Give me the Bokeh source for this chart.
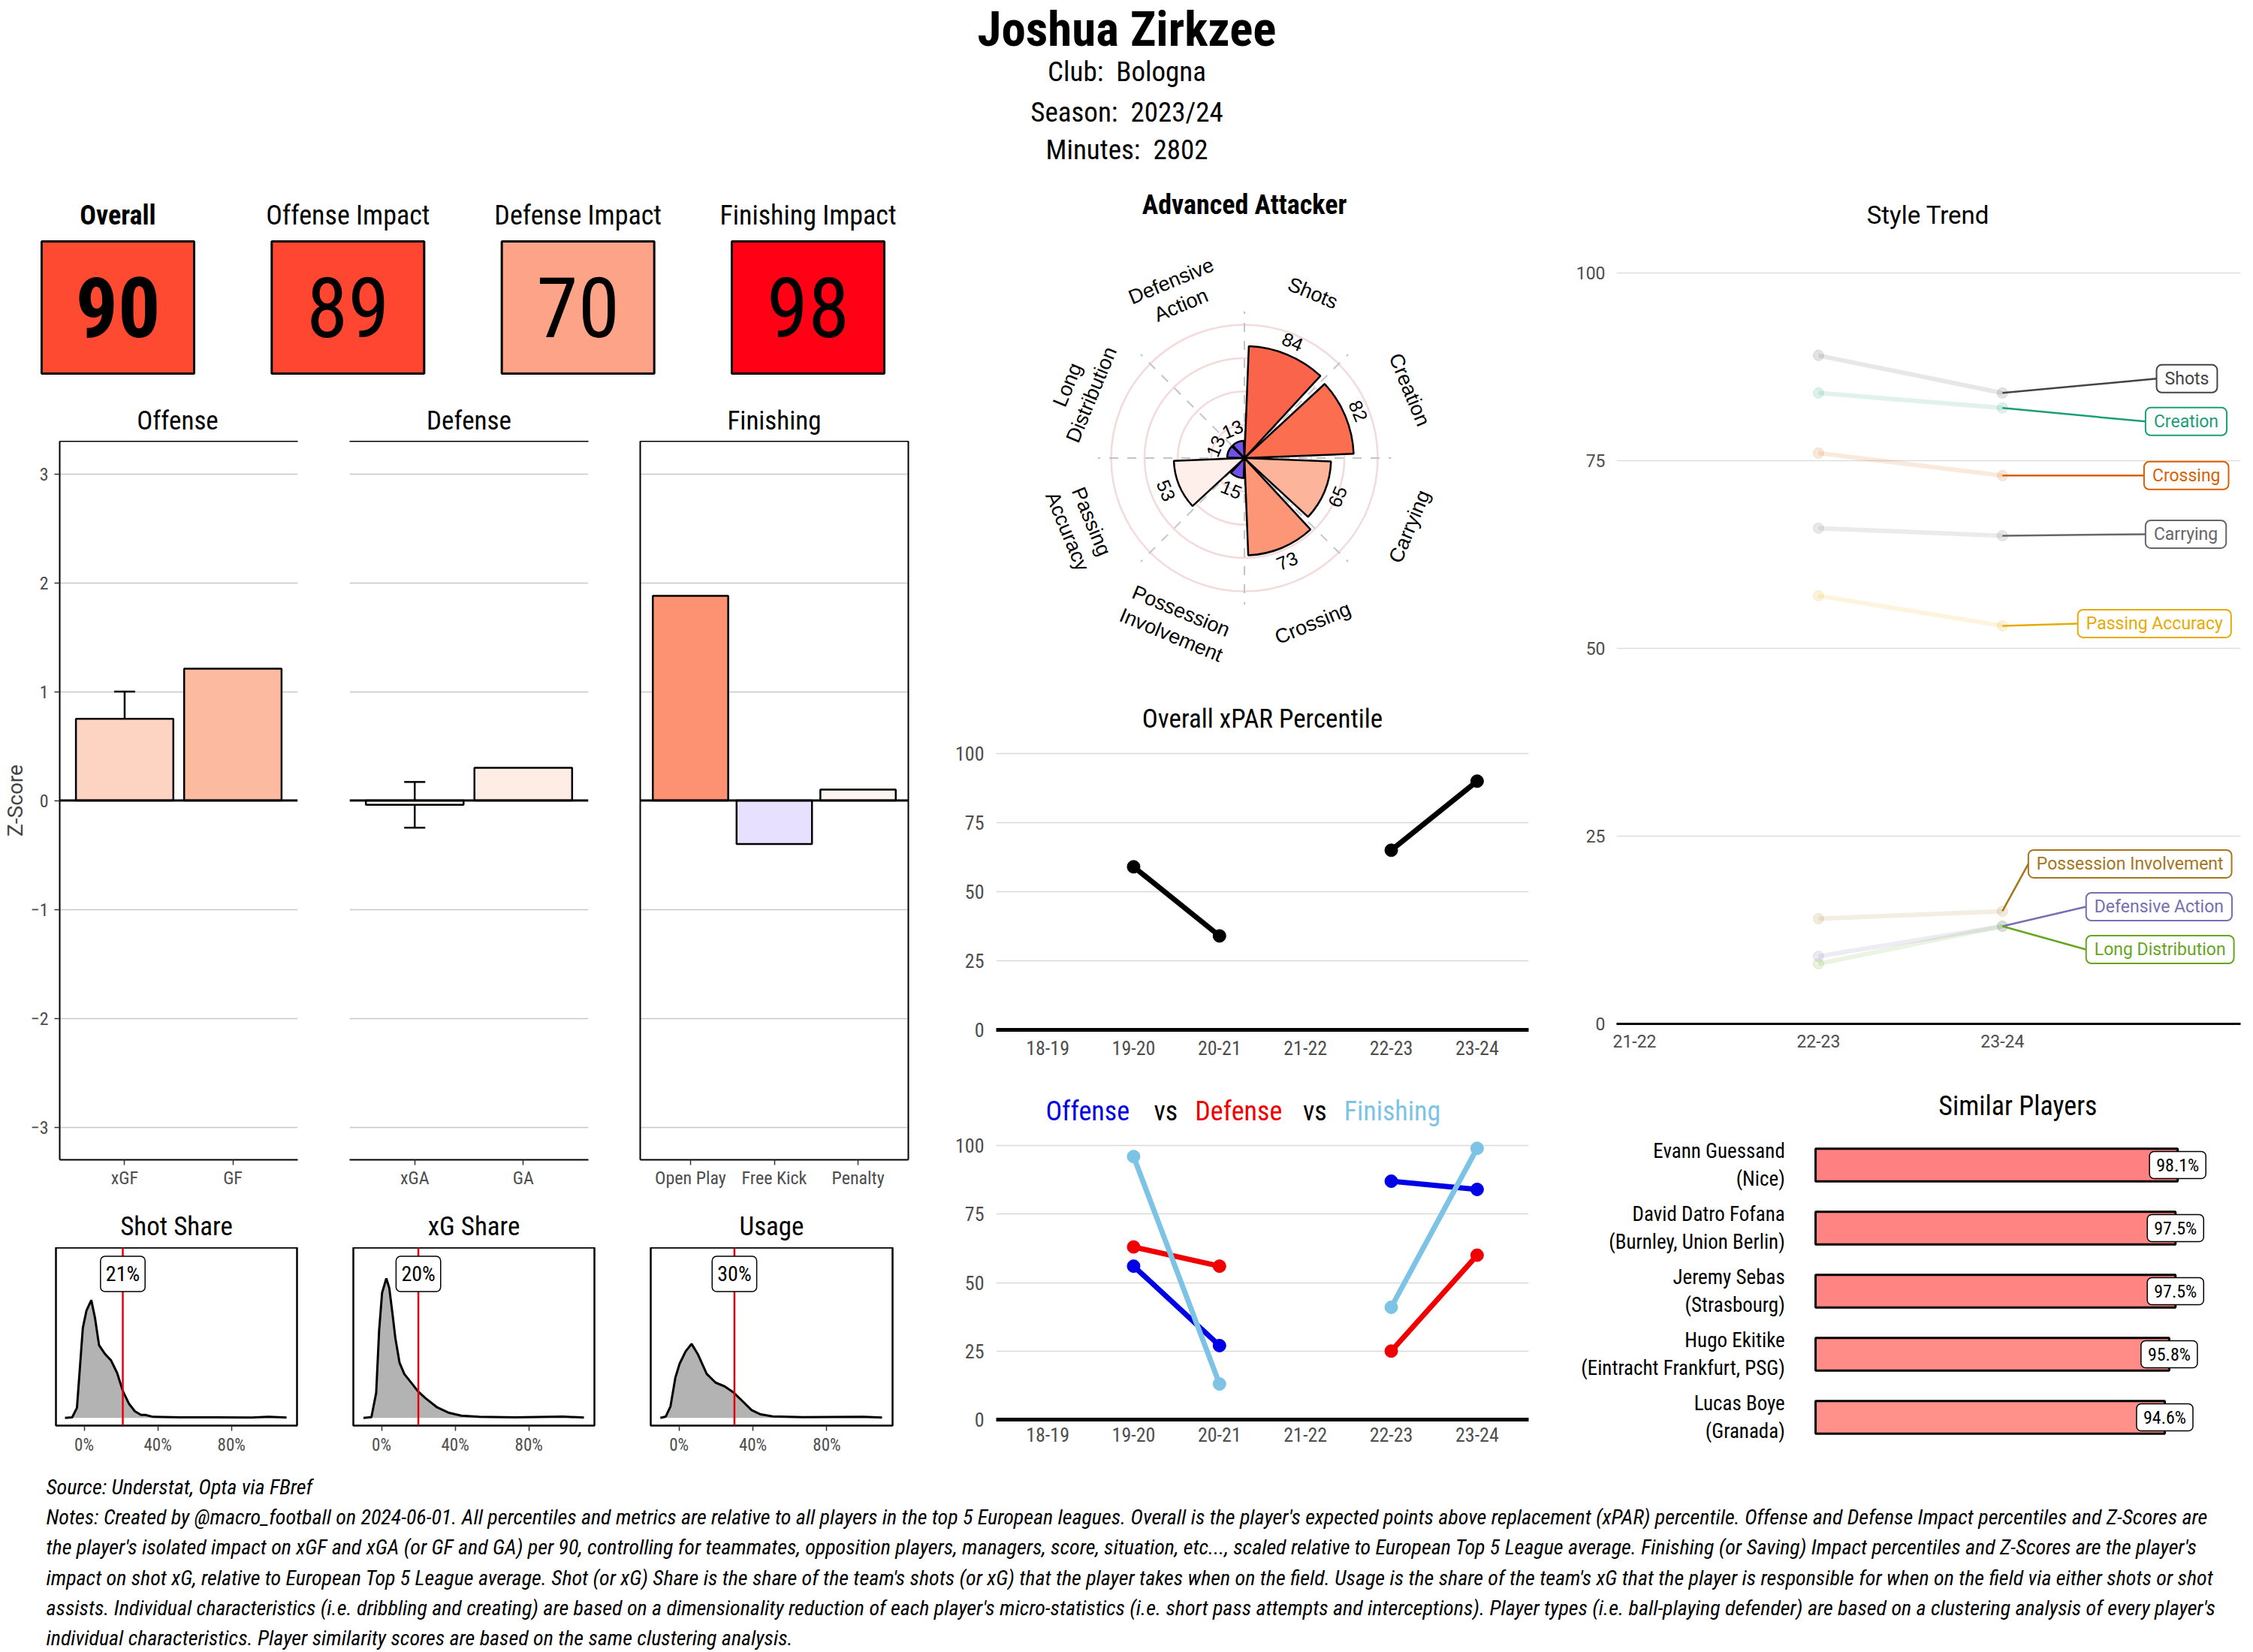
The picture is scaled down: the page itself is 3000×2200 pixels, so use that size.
import math
from bokeh.plotting import figure
from bokeh.layouts import column, row
from bokeh.models import Range1d, FixedTicker, LinearAxis, Span, Label, Whisker, TeeHead, ColumnDataSource
from bokeh.embed import file_html
from bokeh.resources import INLINE
from bokeh.core.properties import value

COND = "'Roboto Condensed', 'Liberation Sans Narrow', 'DejaVu Sans Condensed', 'Arial Narrow', Roboto, sans-serif"
ARIAL = "'Liberation Sans', Arial, sans-serif"
ROBO = "Roboto, sans-serif"
GREY = "#4D4D4D"
NAN = float("nan")

# ---------------- data ----------------
player_name = "Joshua Zirkzee"
club_name = "Bologna"
season_name = "2023/24"
minutes_played = 2802
player_type = "Advanced Attacker"

score_titles = ["Overall", "Offense Impact", "Defense Impact", "Finishing Impact"]
score_values = [90, 89, 70, 98]
score_colors = ["#FF4A32", "#FF4631", "#FDA488", "#FF0015"]

offense_cats = ["xGF", "GF"]
offense_z = [0.75, 1.21]
offense_err_lo = [0.50, NAN]
offense_err_hi = [1.00, NAN]
offense_colors = ["#FDD4C2", "#FCBBA1"]

defense_cats = ["xGA", "GA"]
defense_z = [-0.04, 0.30]
defense_err_lo = [-0.25, NAN]
defense_err_hi = [0.17, NAN]
defense_colors = ["#FFF5F0", "#FEEDE5"]

finishing_cats = ["Open Play", "Free Kick", "Penalty"]
finishing_z = [1.88, -0.40, 0.10]
finishing_colors = ["#FC9272", "#E7E1FF", "#FFF5F0"]

shot_share = 21
shot_dens_x = [-10.4, -6.5, -3.9, -2.3, -0.7, 1.3, 3.9, 5.9, 8.1, 11.4, 14.6, 17.9, 21.1, 24.4, 27.6, 30.9, 33.2, 37.4, 52.0, 71.5, 91.1, 100.2, 109.9]
shot_dens_y = [0, 2, 40, 200, 360, 430, 471, 400, 291, 255, 230, 180, 106, 56, 26, 12, 12, 4, 2, 2, 1, 4, 1]

xg_share = 20
xg_dens_x = [-9.8, -5.5, -2.9, -1.3, 0.3, 2.6, 4.2, 5.9, 7.5, 9.8, 12.4, 17.2, 19.8, 23.7, 30.2, 36.7, 43.3, 53.0, 72.5, 98.5, 109.9]
xg_dens_y = [0, 3, 100, 350, 500, 558, 520, 420, 320, 220, 175, 131, 106, 80, 42, 20, 9, 4, 2, 5, 1]

usage = 30
usage_dens_x = [-10.1, -7.2, -4.6, -2.0, 0.3, 3.6, 6.8, 10.1, 15.0, 19.8, 24.7, 29.6, 34.5, 39.3, 44.2, 50.7, 67.0, 99.5, 109.9]
usage_dens_y = [0, 5, 46, 160, 216, 266, 296, 256, 176, 141, 126, 101, 66, 31, 14, 6, 3, 4, 1]

radar_cats = ["Shots", "Creation", "Carrying", "Crossing", "Possession\nInvolvement",
              "Passing\nAccuracy", "Long\nDistribution", "Defensive\nAction"]
radar_vals = [84, 82, 65, 73, 15, 53, 13, 13]
radar_colors = ["#FA644B", "#FB6E50", "#FCB59B", "#FC9676", "#7052E8", "#FFEFEA", "#7052E8", "#7052E8"]

seasons = ["18-19", "19-20", "20-21", "21-22", "22-23", "23-24"]
xpar_pct = [NAN, 59, 34, NAN, 65, 90]
offense_pct = [NAN, 56, 27, NAN, 87, 84]
defense_pct = [NAN, 63, 56, NAN, 25, 60]
finishing_pct = [NAN, 96, 13, NAN, 41, 99]

style_seasons = ["21-22", "22-23", "23-24"]
style_names = ["Shots", "Creation", "Crossing", "Carrying", "Passing Accuracy",
               "Possession Involvement", "Defensive Action", "Long Distribution"]
style_2223 = [89, 84, 76, 66, 57, 14, 9, 8]
style_2324 = [84, 82, 73, 65, 53, 15, 13, 13]
style_colors = ["#444444", "#1B9E77", "#D95F02", "#666666", "#E6AB02", "#A6761D", "#7570B3", "#66A61E"]
# repelled label placement (box left edge, box centre) in plot units
style_label_pos = [(3.838, 85.9), (3.778, 80.2), (3.770, 73.0), (3.778, 65.2),
                   (3.410, 53.3), (3.141, 21.3), (3.455, 15.6), (3.455, 9.9)]

similar_names = ["Evann Guessand", "David Datro Fofana", "Jeremy Sebas", "Hugo Ekitike", "Lucas Boye"]
similar_clubs = ["Nice", "Burnley, Union Berlin", "Strasbourg", "Eintracht Frankfurt, PSG", "Granada"]
similar_vals = [98.1, 97.5, 97.5, 95.8, 94.6]
similar_colors = ["#FF8080", "#FF8482", "#FF8482", "#FF8C86", "#FF918A"]

source_note = "Source: Understat, Opta via FBref"
notes_lines = [
    "Notes: Created by @macro_football on 2024-06-01. All percentiles and metrics are relative to all players in the top 5 European leagues. Overall is the player's expected points above replacement (xPAR) percentile. Offense and Defense Impact percentiles and Z-Scores are",
    "the player's isolated impact on xGF and xGA (or GF and GA) per 90, controlling for teammates, opposition players, managers, score, situation, etc..., scaled relative to European Top 5 League average. Finishing (or Saving) Impact percentiles and Z-Scores are the player's",
    "impact on shot xG, relative to European Top 5 League average. Shot (or xG) Share is the share of the team's shots (or xG) that the player takes when on the field. Usage is the share of the team's xG that the player is responsible for when on the field via either shots or shot",
    "assists. Individual characteristics (i.e. dribbling and creating) are based on a dimensionality reduction of each player's micro-statistics (i.e. short pass attempts and interceptions). Player types (i.e. ball-playing defender) are based on a clustering analysis of every player's",
    "individual characteristics. Player similarity scores are based on the same clustering analysis.",
]


# ---------------- helpers ----------------
def mkfig(**kw):
    opts = dict(output_backend="svg", toolbar_location=None)
    opts.update(kw)
    p = figure(**opts)
    p.frame_align = False
    p.outline_line_color = None
    return p


def blank(w, h, xr, yr):
    p = mkfig(width=w, height=h, x_range=Range1d(*xr), y_range=Range1d(*yr), min_border=0,
              x_axis_location=None, y_axis_location=None)
    p.grid.grid_line_color = None
    return p


def strip(w, h, cx, cy, txt, size="35px"):
    p = blank(w, h, (0, w), (h, 0))
    p.text(x=[cx], y=[cy], text=[txt], text_font=value(COND), text_font_size=size,
           text_align="center", text_baseline="middle", text_color="black")
    return p


def edge_axis(p, loc):
    ax = LinearAxis(ticker=FixedTicker(ticks=[]), axis_line_color="black", axis_line_width=2,
                    major_tick_out=0, major_tick_in=0, minor_tick_out=0, minor_tick_in=0,
                    major_label_standoff=0)
    p.add_layout(ax, loc)


def bar_panel(w, left, right, cats, vals, colors, err_lo, err_hi, yaxis=False, lline=False, rline=False):
    n = len(cats)
    xs = list(range(1, n + 1))
    p = mkfig(width=w, height=1021, x_range=Range1d(0.4, n + 0.6), y_range=Range1d(-3.3, 3.3),
              min_border_left=left, min_border_right=right, min_border_top=0, min_border_bottom=64,
              y_axis_location="left" if yaxis else None)
    p.xgrid.grid_line_color = None
    p.ygrid.ticker = FixedTicker(ticks=[-3, -2, -1, 1, 2, 3])
    p.ygrid.grid_line_color = "#C8C8C8"
    p.ygrid.grid_line_width = 1.5
    xa = p.xaxis[0]
    xa.ticker = FixedTicker(ticks=xs)
    xa.major_label_overrides = {x: c for x, c in zip(xs, cats)}
    xa.axis_line_color = "black"
    xa.axis_line_width = 2
    xa.major_tick_out = 7
    xa.major_tick_in = 0
    xa.major_tick_line_color = "#333333"
    xa.major_tick_line_width = 1.5
    xa.major_label_standoff = 3
    xa.major_label_text_font = COND
    xa.major_label_text_font_size = "24px"
    xa.major_label_text_color = GREY
    if yaxis:
        ya = p.yaxis[0]
        ya.ticker = FixedTicker(ticks=[-3, -2, -1, 0, 1, 2, 3])
        ya.axis_line_color = "black"
        ya.axis_line_width = 2
        ya.major_tick_out = 7
        ya.major_tick_in = 0
        ya.minor_tick_out = 0
        ya.major_tick_line_color = "#333333"
        ya.major_tick_line_width = 1.5
        ya.major_label_standoff = 8
        ya.major_label_text_font = COND
        ya.major_label_text_font_size = "24px"
        ya.major_label_text_color = GREY
        ya.axis_label = "Z-Score"
        ya.axis_label_text_font = ROBO
        ya.axis_label_text_font_style = "normal"
        ya.axis_label_text_font_size = "28px"
        ya.axis_label_standoff = 1
    edge_axis(p, "above")
    if lline:
        edge_axis(p, "left")
    if rline:
        edge_axis(p, "right")
    p.vbar(x=xs, top=vals, bottom=0, width=0.9, fill_color=colors, line_color="black", line_width=2.5)
    ex = [x for x, lo in zip(xs, err_lo) if not math.isnan(lo)]
    elo = [lo for lo in err_lo if not math.isnan(lo)]
    ehi = [hi for hi in err_hi if not math.isnan(hi)]
    if ex:
        src = ColumnDataSource(dict(x=ex, lo=elo, hi=ehi))
        p.add_layout(Whisker(source=src, base="x", lower="lo", upper="hi", line_color="black", line_width=2.5,
                             lower_head=TeeHead(size=28, line_color="black", line_width=2.5),
                             upper_head=TeeHead(size=28, line_color="black", line_width=2.5)))
    p.add_layout(Span(location=0, dimension="width", line_color="black", line_width=3))
    return p


def dens_panel(w, left, right, xs, ys, val):
    p = mkfig(width=w, height=279, x_range=Range1d(-15.3, 115.6), y_range=Range1d(-31, 681),
              min_border_left=left, min_border_right=right, min_border_top=0, min_border_bottom=42,
              y_axis_location=None)
    p.outline_line_color = "black"
    p.outline_line_width = 2.5
    p.grid.grid_line_color = None
    xa = p.xaxis[0]
    xa.ticker = FixedTicker(ticks=[0, 40, 80])
    xa.major_label_overrides = {0: "0%", 40: "40%", 80: "80%"}
    xa.axis_line_color = None
    xa.major_tick_out = 7
    xa.major_tick_in = 0
    xa.major_tick_line_color = "#333333"
    xa.major_tick_line_width = 1.5
    xa.major_label_standoff = 5
    xa.major_label_text_font = COND
    xa.major_label_text_font_size = "23px"
    xa.major_label_text_color = GREY
    p.varea(x=xs, y1=[0] * len(xs), y2=ys, fill_color="#B3B3B3")
    p.line(x=xs, y=ys, line_color="black", line_width=3)
    p.add_layout(Span(location=val, dimension="height", line_color="#E8000B", line_width=2.5))
    p.add_layout(Label(x=val, y=576, text=f"{val}%", text_align="center", text_baseline="middle",
                       text_font=COND, text_font_size="28px", text_color="black",
                       background_fill_color="white", border_line_color="black", border_line_width=1.5,
                       border_radius=6, padding=7))
    return p


def pct_axes(p, cats, font, size, ystand, xstand, axis_w):
    n = len(cats)
    xs = list(range(1, n + 1))
    p.xgrid.grid_line_color = None
    p.ygrid.ticker = FixedTicker(ticks=[25, 50, 75, 100])
    p.ygrid.grid_line_color = "#D9D9D9"
    p.ygrid.grid_line_width = 1.5
    ya = p.yaxis[0]
    ya.ticker = FixedTicker(ticks=[0, 25, 50, 75, 100])
    ya.axis_line_color = None
    ya.major_tick_out = 0
    ya.major_tick_in = 0
    ya.minor_tick_out = 0
    ya.minor_tick_in = 0
    ya.major_label_standoff = ystand
    ya.major_label_text_font = font
    ya.major_label_text_font_size = size
    ya.major_label_text_color = GREY
    xa = p.xaxis[0]
    xa.ticker = FixedTicker(ticks=xs)
    xa.major_label_overrides = {x: c for x, c in zip(xs, cats)}
    xa.axis_line_color = "black"
    xa.axis_line_width = axis_w
    xa.major_tick_out = 0
    xa.major_tick_in = 0
    xa.minor_tick_out = 0
    xa.minor_tick_in = 0
    xa.major_label_standoff = xstand
    xa.major_label_text_font = font
    xa.major_label_text_font_size = size
    xa.major_label_text_color = GREY
    return xs


# ---------------- header ----------------
header = blank(2998, 240, (0, 2998), (240, 0))
header.text(x=[1500], y=[38], text=[player_name], text_font=value(COND), text_font_size="65px",
            text_font_style="bold", text_align="center", text_baseline="middle")
header.text(x=[1500] * 3, y=[95, 149, 199],
            text=[f"Club:\u00a0 {club_name}", f"Season:\u00a0 {season_name}", f"Minutes:\u00a0 {minutes_played}"],
            text_font=value(COND), text_font_size="37px", text_align="center", text_baseline="middle")

# ---------------- score boxes ----------------
scores = blank(1230, 298, (-0.5109, 3.5044), (-0.233, 1.460))
sx = list(range(len(score_values)))
scores.rect(x=sx, y=0.5, width=0.6627, height=1, fill_color=score_colors, line_color="black", line_width=3)
scores.text(x=sx[:1], y=[0.5], text=[str(score_values[0])], text_font=value(COND), text_font_size="112px",
            text_font_style="bold", text_align="center", text_baseline="middle")
scores.text(x=sx[1:], y=[0.5] * 3, text=[str(v) for v in score_values[1:]], text_font=value(COND),
            text_font_size="112px", text_align="center", text_baseline="middle")
scores.text(x=sx[:1], y=[1.193], text=score_titles[:1], text_font=value(COND), text_font_size="36px",
            text_font_style="bold", text_align="center", text_baseline="middle")
scores.text(x=sx[1:], y=[1.193] * 3, text=score_titles[1:], text_font=value(COND), text_font_size="36px",
            text_align="center", text_baseline="middle")

# ---------------- z-score bars ----------------
b_off = bar_panel(438, 76, 42, offense_cats, offense_z, offense_colors, offense_err_lo, offense_err_hi, yaxis=True)
b_def = bar_panel(385, 27, 40, defense_cats, defense_z, defense_colors, defense_err_lo, defense_err_hi)
b_fin = bar_panel(407, 29, 21, finishing_cats, finishing_z, finishing_colors, [NAN] * 3, [NAN] * 3,
                  lline=True, rline=True)
bars_row = row(column(strip(438, 49, 236, 22, "Offense"), b_off),
               column(strip(385, 49, 186, 22, "Defense"), b_def),
               column(strip(407, 49, 207.5, 22, "Finishing"), b_fin))

# ---------------- densities ----------------
d_shot = dens_panel(438, 74, 43, shot_dens_x, shot_dens_y, shot_share)
d_xg = dens_panel(385, 32, 32, xg_dens_x, xg_dens_y, xg_share)
d_use = dens_panel(407, 43, 42, usage_dens_x, usage_dens_y, usage)
dens_row = row(column(strip(438, 53, 234.5, 25, "Shot Share"), d_shot),
               column(strip(385, 53, 192.5, 25, "xG Share"), d_xg),
               column(strip(407, 53, 204, 25, "Usage"), d_use))

colA = column(scores, bars_row, dens_row)

# ---------------- radar ----------------
radar = blank(830, 680, (-240.3, 227.3), (-174.9, 208.2))
n = len(radar_cats)
step = 360.0 / n
theta_c = [step * (i + 0.5) for i in range(n)]
bw = 0.9 * step
radar.circle(x=[0] * 4, y=[0] * 4, radius=[25, 50, 75, 100], fill_color=None,
             line_color="#F4DADA", line_width=2.5)
spoke = [step * i for i in range(n)]
radar.segment(x0=[0] * n, y0=[0] * n,
              x1=[110 * math.sin(math.radians(t)) for t in spoke],
              y1=[110 * math.cos(math.radians(t)) for t in spoke],
              line_color="#C4C4C4", line_width=2, line_dash="12 12")
radar.wedge(x=[0] * n, y=[0] * n, radius=radar_vals,
            start_angle=[math.radians(90 - (t + bw / 2)) for t in theta_c],
            end_angle=[math.radians(90 - (t - bw / 2)) for t in theta_c],
            fill_color=radar_colors, line_color="black", line_width=2.5)


def upright(t):
    a = -t
    while a < -90:
        a += 180
    while a > 90:
        a -= 180
    return math.radians(a)


rlab = 134
radar.text(x=[rlab * math.sin(math.radians(t)) for t in theta_c],
           y=[rlab * math.cos(math.radians(t)) for t in theta_c],
           text=radar_cats, angle=[upright(t) for t in theta_c],
           text_font=value(ARIAL), text_font_size="27px", text_align="center", text_baseline="middle",
           text_line_height=1.15)
radar.text(x=[(v + 10.5) * math.sin(math.radians(t)) for v, t in zip(radar_vals, theta_c)],
           y=[(v + 10.5) * math.cos(math.radians(t)) for v, t in zip(radar_vals, theta_c)],
           text=[str(v) for v in radar_vals], angle=[upright(t) for t in theta_c],
           text_font=value(ARIAL), text_font_size="25px", text_align="center", text_baseline="middle")
radar.text(x=[0], y=[190.1], text=[player_type], text_font=value(COND), text_font_size="36px",
           text_font_style="bold", text_align="center", text_baseline="middle")

# ---------------- xPAR ----------------
xpar = mkfig(width=830, height=500, x_range=Range1d(0.4, 6.6), y_range=Range1d(0, 122.55),
             min_border_left=96, min_border_right=25, min_border_top=0, min_border_bottom=49)
xs6 = pct_axes(xpar, seasons, COND, "26px", 16, 14, 5)
xpar.line(x=xs6, y=xpar_pct, line_color="black", line_width=7)
xpar.scatter(x=xs6, y=xpar_pct, size=17, color="black")
xpar.text(x=[3.5], y=[112.5], text=["Overall xPAR Percentile"], text_font=value(COND), text_font_size="35px",
          text_align="center", text_baseline="middle")

# ---------------- offense vs defense vs finishing ----------------
ovd = mkfig(width=830, height=520, x_range=Range1d(0.4, 6.6), y_range=Range1d(0, 128.8),
            min_border_left=96, min_border_right=25, min_border_top=0, min_border_bottom=50)
pct_axes(ovd, seasons, COND, "26px", 16, 10, 5)
for vals, col in [(offense_pct, "#0000E6"), (defense_pct, "#F00000"), (finishing_pct, "#7CC3E6")]:
    ovd.line(x=xs6, y=vals, line_color=col, line_width=7)
    ovd.scatter(x=xs6, y=vals, size=17, color=col)
title_words = ["Offense", "vs", "Defense", "vs", "Finishing"]
title_cols = ["#0000E6", "black", "#F00000", "black", "#7CC3E6"]
ovd.text(x=[1.465, 2.375, 3.223, 4.111, 5.012], y=[112.6] * 5, text=title_words, text_color=title_cols,
         text_font=value(COND), text_font_size="36px", text_align="center", text_baseline="middle")

colB = column(radar, xpar, ovd)

# ---------------- style trend ----------------
style = mkfig(width=938, height=1180, x_range=Range1d(0.902, 4.295), y_range=Range1d(0, 112.28),
              min_border_left=92, min_border_right=15, min_border_top=0, min_border_bottom=57)
pct_axes(style, style_seasons, ROBO, "23px", 15, 14, 3)
style.ygrid.grid_line_color = "#DEDEDE"
for v1, v2, col in zip(style_2223, style_2324, style_colors):
    style.line(x=[2, 3], y=[v1, v2], line_color=col, line_alpha=0.13, line_width=6)
    style.scatter(x=[2, 3], y=[v1, v2], size=14, color=col, alpha=0.15)
style.segment(x0=[3] * len(style_2324), y0=style_2324,
              x1=[p[0] for p in style_label_pos], y1=[p[1] for p in style_label_pos],
              line_color=style_colors, line_width=2.5)
style.text(x=[p[0] for p in style_label_pos], y=[p[1] for p in style_label_pos], text=style_names,
           text_color=style_colors, text_font=value(ROBO), text_font_size="23px",
           text_align="left", text_baseline="middle",
           background_fill_color="white", border_line_color=style_colors, border_line_width=2,
           padding=dict(left=11, right=11, top=5, bottom=5), border_radius=7)
style.text(x=[2.596], y=[107.7], text=["Style Trend"], text_font=value(ROBO), text_font_size="33px",
           text_align="center", text_baseline="middle")

# ---------------- similar players ----------------
sim = blank(938, 520, (-72.65, 118.2), (0.369, 6.56))
rows_y = list(range(len(similar_vals), 0, -1))
sim.hbar(y=rows_y, left=0, right=similar_vals, height=0.52, fill_color=similar_colors,
         line_color="black", line_width=3)
sim.text(x=[-8.3] * len(rows_y), y=rows_y, text=[f"{a}\n({b})" for a, b in zip(similar_names, similar_clubs)],
         text_font=value(COND), text_font_size="27px", text_align="right", text_baseline="middle",
         text_line_height=1.15)
sim.text(x=similar_vals, y=rows_y, text=[f"{v:.1f}%" for v in similar_vals], text_font=value(COND),
         text_font_size="24px", text_align="center", text_baseline="middle",
         background_fill_color="white", border_line_color="black", border_line_width=1.5,
         padding=dict(left=9, right=9, top=4, bottom=4), border_radius=6)
sim.text(x=[54.8], y=[5.93], text=["Similar Players"], text_font=value(COND), text_font_size="36px",
         text_align="center", text_baseline="middle")

colC = column(style, sim)

# ---------------- notes ----------------
notes = blank(2998, 258, (0, 2998), (258, 0))
notes.text(x=[61] * 6, y=[40, 80, 120, 161, 201, 241], text=[source_note] + notes_lines,
           text_font=value(COND), text_font_size="28px", text_font_style="italic",
           text_align="left", text_baseline="middle")

root = column(header, row(colA, colB, colC), notes)
open("out.html", "w").write(file_html(root, INLINE, title="Joshua Zirkzee"))
